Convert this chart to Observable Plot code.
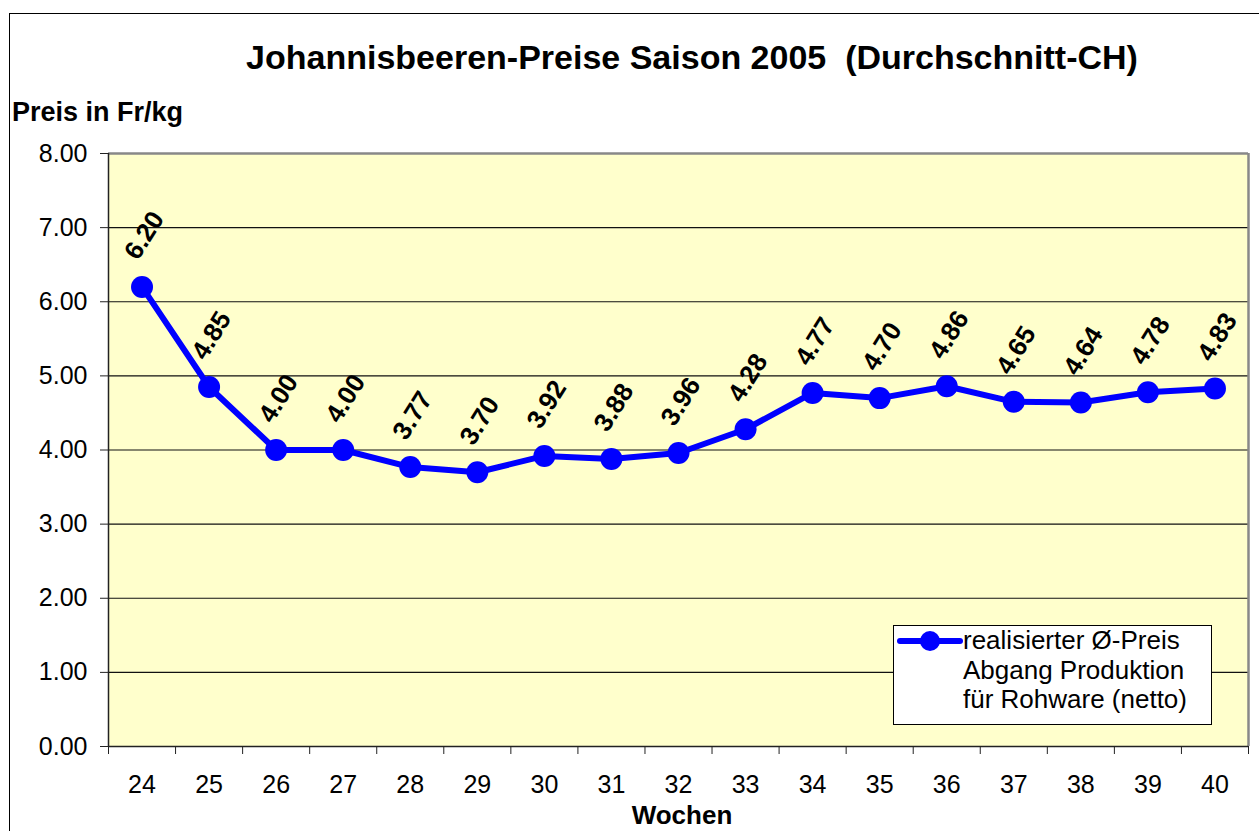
<!DOCTYPE html>
<html>
<head>
<meta charset="utf-8">
<script src="https://cdn.jsdelivr.net/npm/d3@7"></script>
<script src="https://cdn.jsdelivr.net/npm/@observablehq/plot@0.6"></script>
<style>
  html, body { margin: 0; padding: 0; background: #fff; overflow: hidden; }
  #wrap { position: relative; width: 1259px; height: 831px; font-family: "Liberation Sans", Arial, sans-serif; }
  #frame { position: absolute; left: 9px; top: 13px; width: 1300px; height: 900px; border: 1px solid #000; box-sizing: border-box; }
  #chart { position: absolute; left: 0; top: 0; }
  .title { position: absolute; left: 0; width: 1384px; top: 38px; text-align: center; font-weight: bold; font-size: 34px; white-space: pre; line-height: 38px; }
  .ylab { position: absolute; left: 12px; top: 98px; font-weight: bold; font-size: 27px; line-height: 28px; white-space: nowrap; }
  .xlab { position: absolute; left: 582px; width: 200px; top: 801px; text-align: center; font-weight: bold; font-size: 26px; line-height: 28px; }
  .legend { position: absolute; left: 893px; top: 625px; width: 319px; height: 100px; box-sizing: border-box; border: 1px solid #000; background: #fff; }
  .legend svg { position: absolute; left: 3px; top: 4px; }
  .legend .txt { position: absolute; left: 69px; top: 0px; font-size: 26px; line-height: 29.5px; color: #000; white-space: nowrap; }
</style>
</head>
<body>
<div id="wrap">
  <div id="frame"></div>
  <div id="chart"></div>
  <div class="title">Johannisbeeren-Preise Saison 2005  (Durchschnitt-CH)</div>
  <div class="ylab">Preis in Fr/kg</div>
  <div class="xlab">Wochen</div>
  <div class="legend">
    <svg width="66" height="24"><line x1="3" y1="11" x2="63" y2="11" stroke="#0000FF" stroke-width="6" stroke-linecap="round"/><circle cx="33" cy="11" r="10" fill="#0000FF"/></svg>
    <div class="txt">realisierter Ø-Preis<br>Abgang Produktion<br>für Rohware (netto)</div>
  </div>
</div>
<script>
const weeks = [24, 25, 26, 27, 28, 29, 30, 31, 32, 33, 34, 35, 36, 37, 38, 39, 40];
const prices = [6.20, 4.85, 4.00, 4.00, 3.77, 3.70, 3.92, 3.88, 3.96, 4.28, 4.77, 4.70, 4.86, 4.65, 4.64, 4.78, 4.83];
const yTicks = [0, 1, 2, 3, 4, 5, 6, 7, 8];
const seriesName = "realisierter Ø-Preis Abgang Produktion für Rohware (netto)";

const data = weeks.map((w, i) => ({week: w, price: prices[i]}));
const bounds = weeks.map(w => w - 0.5).concat([weeks[weeks.length - 1] + 0.5]);
const xMin = weeks[0] - 0.5, xMax = weeks[weeks.length - 1] + 0.5;

const chart = Plot.plot({
  width: 1259,
  height: 831,
  marginLeft: 108,
  marginRight: 11,
  marginTop: 153,
  marginBottom: 85,
  style: {fontFamily: "'Liberation Sans', Arial, sans-serif", background: "transparent", color: "#000"},
  x: {domain: [xMin, xMax]},
  y: {domain: [0, 8]},
  marks: [
    Plot.rect([0], {x1: xMin, x2: xMax, y1: 0, y2: 8, fill: "#FFFFCC"}),
    Plot.ruleY(yTicks.slice(1, -1), {stroke: "#111", strokeWidth: 1.2}),
    Plot.ruleY([8], {stroke: "#888", strokeWidth: 2.5}),
    Plot.ruleX([xMax], {stroke: "#888", strokeWidth: 2.5}),
    Plot.ruleX([xMin], {stroke: "#222", strokeWidth: 1.5}),
    Plot.ruleY([0], {stroke: "#222", strokeWidth: 1.5}),
    Plot.axisY({ticks: yTicks, tickFormat: d => d.toFixed(2), tickSize: 8, tickPadding: 13, fontSize: 25, label: null, stroke: "#222"}),
    Plot.axisX({ticks: weeks, tickFormat: d => String(d), tickSize: 0, tickPadding: 29, fontSize: 25, label: null}),
    Plot.axisX({ticks: bounds, tickFormat: () => "", tickSize: 8, label: null, stroke: "#222"}),
    Plot.line(data, {x: "week", y: "price", stroke: "#0000FF", strokeWidth: 6, strokeLinejoin: "round"}),
    Plot.dot(data, {x: "week", y: "price", r: 11, fill: "#0000FF", stroke: null, title: d => seriesName}),
    Plot.text(data, {x: "week", y: "price", text: d => d.price.toFixed(2), rotate: -58, textAnchor: "start", dx: -11, dy: -30, fontSize: 26, fontWeight: "bold", fill: "#000"})
  ]
});
document.getElementById("chart").appendChild(chart);
</script>
</body>
</html>
